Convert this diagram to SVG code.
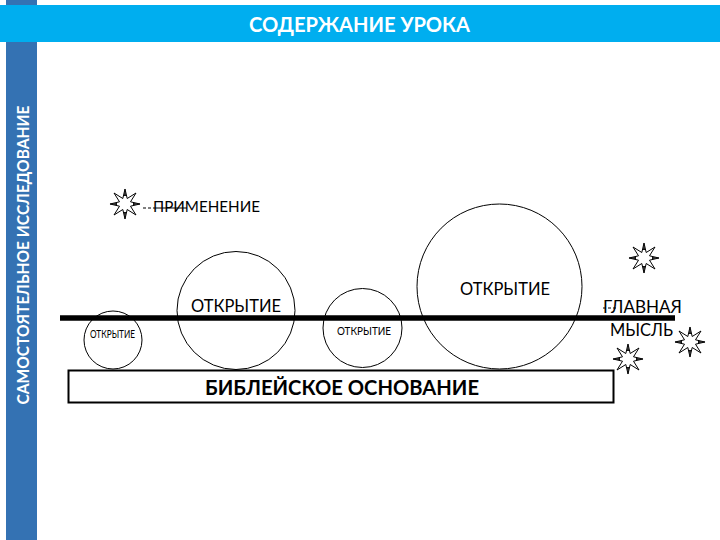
<svg xmlns="http://www.w3.org/2000/svg" width="720" height="540" viewBox="0 0 720 540">
<style>
text{font-family:Lato,"Liberation Sans",sans-serif;fill:#000}
.c{fill:none;stroke:#000;stroke-width:1}
.s{fill:#fff;stroke:#000;stroke-width:1}
.w{fill:#000;stroke:none}
.m{font-size:18px}
.t{font-size:10.500px}
</style>
<defs>
<g id="star">
<polygon class="s" points="0,-15 2.200,-5.500 11,-11 5.500,-2.200 15,0 5.500,2.200 11,11 2.200,5.500 0,15 -2.200,5.500 -11,11 -5.500,2.200 -15,0 -5.500,-2.200 -11,-11 -2.200,-5.500"/>
<path class="w" d="M0 -15.500L1 -8H-1ZM15.500 0L8 1V-1ZM0 15.500L-1 8H1ZM-15.500 0L-8 -1V1Z"/>
</g>
</defs>
<rect width="720" height="540" fill="#fff"/>
<rect id="sidebar" x="6" y="0" width="31" height="540" fill="#3472b3"/>
<rect id="header" x="0" y="5" width="720" height="37" fill="#00aeef"/>
<text x="249" y="32" font-size="20" font-weight="700" textLength="221" lengthAdjust="spacingAndGlyphs" style="fill:#fff">СОДЕРЖАНИЕ УРОКА</text>
<text transform="translate(28.500,404.500) rotate(-90)" font-size="17" font-weight="700" textLength="299" lengthAdjust="spacingAndGlyphs" style="fill:#fff">САМОСТОЯТЕЛЬНОЕ ИССЛЕДОВАНИЕ</text>
<g id="node-open1"><circle class="c" cx="113" cy="340" r="29"/><text class="t" x="90" y="338" textLength="45" lengthAdjust="spacingAndGlyphs">ОТКРЫТИЕ</text></g>
<g id="node-open2"><circle class="c" cx="236" cy="310.500" r="59"/><text class="m" x="191" y="311.500" textLength="90" lengthAdjust="spacingAndGlyphs">ОТКРЫТИЕ</text></g>
<g id="node-open3"><circle class="c" cx="362.500" cy="328" r="39.500"/><text class="t" x="337" y="335" textLength="54" lengthAdjust="spacingAndGlyphs">ОТКРЫТИЕ</text></g>
<g id="node-open4"><circle class="c" cx="499.500" cy="286.500" r="82.500"/><text class="m" x="460" y="294.500" textLength="90" lengthAdjust="spacingAndGlyphs">ОТКРЫТИЕ</text></g>
<g id="node-base"><rect x="68.500" y="370.500" width="545" height="32" fill="none" stroke="#000" stroke-width="2"/><text x="205" y="394.500" font-size="20" font-weight="700" textLength="274" lengthAdjust="spacingAndGlyphs">БИБЛЕЙСКОЕ ОСНОВАНИЕ</text></g>
<g id="node-apply"><use href="#star" x="125" y="204"/><text x="153" y="212" font-size="16" textLength="107" lengthAdjust="spacingAndGlyphs">ПРИМЕНЕНИЕ</text></g>
<g id="node-main"><text x="603" y="313" font-size="18" textLength="79" lengthAdjust="spacingAndGlyphs">ГЛАВНАЯ</text><text x="610" y="336" font-size="18" textLength="63" lengthAdjust="spacingAndGlyphs">МЫСЛЬ</text></g>
<g id="star-a"><use href="#star" x="644" y="258"/></g>
<g id="star-b"><use href="#star" x="690" y="342"/></g>
<g id="star-c"><use href="#star" x="628" y="359"/></g>
<g id="connectors">
<path d="M60 318H675" stroke="#000" stroke-width="5.500" fill="none"/>
<path d="M143 208H153" stroke="#000" stroke-width="1" stroke-dasharray="3 2" fill="none"/>
<path d="M153 208H187" stroke="#000" stroke-width="1" fill="none"/>
<path d="M603 308H618" stroke="#000" stroke-width="1" stroke-dasharray="3 2" fill="none"/>
</g>
</svg>
